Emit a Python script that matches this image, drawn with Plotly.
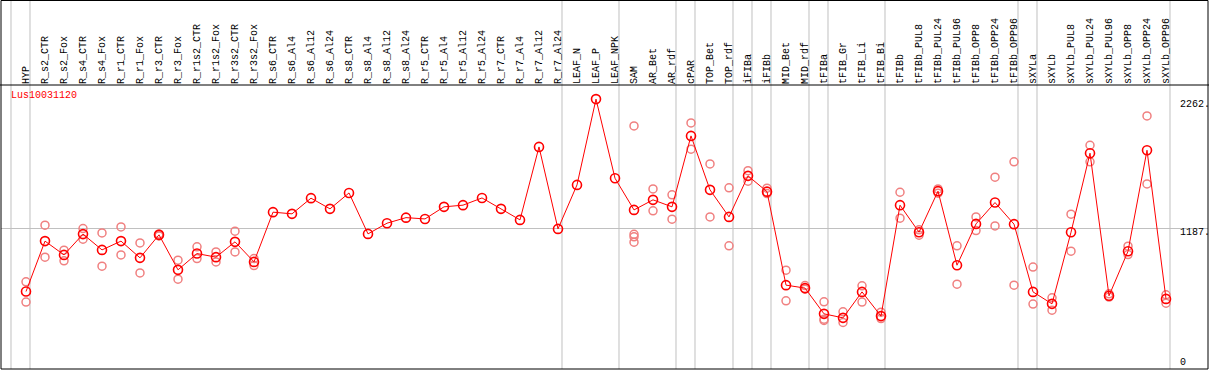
import plotly.graph_objects as go

gene = "Lus10031120"

categories = [
    "HYP", "R_s2_CTR", "R_s2_Fox", "R_s4_CTR", "R_s4_Fox", "R_r1_CTR", "R_r1_Fox",
    "R_r3_CTR", "R_r3_Fox", "R_r1s2_CTR", "R_r1s2_Fox", "R_r3s2_CTR", "R_r3s2_Fox",
    "R_s6_CTR", "R_s6_Al4", "R_s6_Al12", "R_s6_Al24", "R_s8_CTR", "R_s8_Al4",
    "R_s8_Al12", "R_s8_Al24", "R_r5_CTR", "R_r5_Al4", "R_r5_Al12", "R_r5_Al24",
    "R_r7_CTR", "R_r7_Al4", "R_r7_Al12", "R_r7_Al24", "LEAF_N", "LEAF_P", "LEAF_NPK",
    "SAM", "AR_Bet", "AR_rdf", "cPAR", "TOP_Bet", "TOP_rdf", "iFIBa", "iFIBb",
    "MID_Bet", "MID_rdf", "tFIBa", "tFIB_Gr", "tFIB_Li", "tFIB_Bi", "tFIBb",
    "tFIBb_PUL8", "tFIBb_PUL24", "tFIBb_PUL96", "tFIBb_OPP8", "tFIBb_OPP24",
    "tFIBb_OPP96", "sXYLa", "sXYLb", "sXYLb_PUL8", "sXYLb_PUL24", "sXYLb_PUL96",
    "sXYLb_OPP8", "sXYLb_OPP24", "sXYLb_OPP96",
]

means = [
    653, 1078, 962, 1137, 1004, 1078, 937, 1131, 836, 973, 943, 1072, 903,
    1322, 1308, 1440, 1350, 1484, 1139, 1229, 1276, 1265, 1367, 1381, 1442,
    1350, 1257, 1872, 1181, 1552, 2275, 1608,
    1341, 1426, 1367, 1965, 1510, 1282, 1628, 1495,
    707, 682, 465, 431, 650, 446, 1381,
    1153, 1499, 875, 1223, 1403, 1221,
    650, 549, 1153, 1819, 617, 993, 1844, 591,
]

replicates = [
    [735, 564], [1212, 943], [1002, 912], [1184, 1094], [1147, 867], [1198, 962],
    [1063, 810], [1139, 1122], [917, 757], [1030, 931], [987, 903], [1162, 987],
    [931, 872],
    [], [], [], [], [], [], [], [], [], [], [], [], [], [], [], [],
    [], [], [],
    [2049, 1135, 1114, 1069], [1518, 1333], [1468, 1263], [2074, 1853],
    [1729, 1282], [1527, 1038], [1672, 1583], [1524, 1479],
    [833, 575], [703, 673], [566, 420, 409], [482, 392], [701, 564], [479, 425],
    [1490, 1271], [1173, 1128], [1518, 1482], [1038, 715], [1282, 1167],
    [1617, 1206], [1746, 707],
    [859, 547], [600, 496], [1305, 993], [1886, 1746], [634, 606], [1035, 965],
    [2133, 1560], [625, 555],
]

group_ends = [
    "HYP", "R_r7_Al24", "LEAF_NPK", "AR_rdf", "cPAR", "TOP_rdf", "iFIBa", "iFIBb",
    "MID_rdf", "tFIBa", "tFIB_Bi", "tFIBb_OPP96", "sXYLa", "sXYLb_OPP96",
]

y_tick_values = [2262, 1187, 0]
y_tick_labels = ["2262.", "1187.", "0"]
y_grid_values = [1187]

# ---------------------------------------------------------------------------
W, H = 1209, 370
ML, MR, MT, MB = 1, 1, 85, 1
PW = W - ML - MR
PH = H - MT - MB
x_range = [-1.3158, 62.21]
y_range = [0, 2394]
FONT = "Liberation Mono"
RED = "#ff0000"
REP = "#f08080"
GRID = "#c0c0c0"

idx = list(range(len(categories)))


def xpaper(v):
    return (v - x_range[0]) / (x_range[1] - x_range[0])


rx, ry = [], []
for i, reps in enumerate(replicates):
    for r in reps:
        rx.append(i)
        ry.append(r)

fig = go.Figure()
fig.add_trace(go.Scatter(
    x=rx, y=ry, mode="markers",
    marker=dict(symbol="circle-open", size=8, color=REP, line=dict(width=1.5, color=REP)),
    hoverinfo="skip", showlegend=False,
))
fig.add_trace(go.Scatter(
    x=idx, y=means, mode="lines+markers",
    line=dict(color=RED, width=1),
    marker=dict(symbol="circle-open", size=9, color=RED, line=dict(width=1.6, color=RED)),
    showlegend=False,
))

shapes = []
top_paper = (H - MB) / PH  # full image top in paper coords
ends_idx = [-1] + [categories.index(g) for g in group_ends]
for e in ends_idx:
    xp = xpaper(e + 0.21)
    shapes.append(dict(type="line", xref="paper", yref="paper", x0=xp, x1=xp,
                       y0=0, y1=top_paper, line=dict(color=GRID, width=1), layer="below"))
# outer frame
shapes.append(dict(type="rect", xref="paper", yref="paper", x0=0, x1=1, y0=0,
                   y1=top_paper - 0.5 / PH, line=dict(color="black", width=1)))
shapes.append(dict(type="line", xref="paper", yref="paper", x0=-ML / PW, x1=1 + MR / PW,
                   y0=1, y1=1, line=dict(color="black", width=1)))

annotations = [dict(text=gene, xref="paper", yref="paper", x=xpaper(-0.9), y=1 - 3 / PH,
                    xanchor="left", yanchor="top", showarrow=False,
                    font=dict(family=FONT, size=10, color=RED))]
for v, t in zip(y_tick_values, y_tick_labels):
    if v <= y_range[0] + 50:
        annotations.append(dict(text=t, xref="paper", yref="y", x=(1178 - ML) / PW, y=v,
                                xanchor="left", yanchor="bottom", yshift=-1, showarrow=False,
                                font=dict(family=FONT, size=10, color="black")))
    else:
        annotations.append(dict(text=t, xref="paper", yref="y", x=(1178 - ML) / PW, y=v,
                                xanchor="left", yanchor="middle", yshift=-4, showarrow=False,
                                font=dict(family=FONT, size=10, color="black")))

fig.update_layout(
    width=W, height=H,
    margin=dict(l=ML, r=MR, t=MT, b=MB, pad=0),
    paper_bgcolor="white", plot_bgcolor="white",
    shapes=shapes, annotations=annotations,
    xaxis=dict(range=x_range, side="top", tickmode="array", tickvals=idx,
               ticktext=categories, tickangle=-90, showgrid=False, zeroline=False,
               ticks="", showline=False,
               tickfont=dict(family=FONT, size=10, color="black")),
    yaxis=dict(range=y_range, tickmode="array", tickvals=y_grid_values,
               showticklabels=False, showgrid=True, gridcolor=GRID, gridwidth=1,
               zeroline=False, ticks="", showline=False),
)

fig.write_html(
    "out.html",
    config={"displayModeBar": False},
    post_script="document.body.style.margin='0';document.body.style.overflow='hidden';",
)
